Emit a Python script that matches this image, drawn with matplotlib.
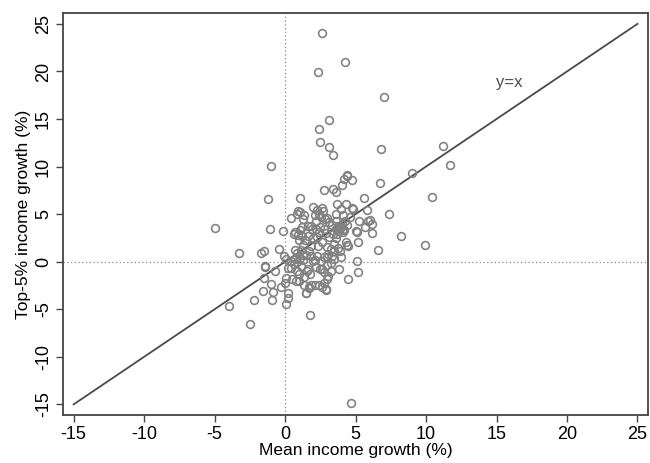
"""
Top-5% income growth vs mean income growth
Scatter with y=x reference line
"""

import matplotlib
matplotlib.use('Agg')
import matplotlib.pyplot as plt
import numpy as np

# points (mean growth %, top-5% growth %)
outer_x = [2.6, 4.27, 2.36, 7.05, 3.15, 2.42, 2.48, 3.13, 3.39, 6.8, 11.2, 11.7, 9.0,
           -1.0, 4.4, 4.15, 4.74, 4.06, 6.7, 2.77, 3.42, 3.6, -1.18, 1.05, 5.6, 10.45,
           -5.0, -1.1, -0.15, 7.4, 8.25, 9.9, 6.6, -3.3, -1.7, -1.5, 5.1, 5.15, 4.45,
           -1.44, -1.4, -1.5, -0.7, -1.0, -1.56, -0.83, -2.2, -0.94, -3.96, -2.47,
           0.05, 0.2, 0.2, 1.8, 4.68, -0.3, 0.0, -0.06, -0.4]
outer_y = [24.0, 21.0, 19.9, 17.3, 14.9, 13.9, 12.6, 12.1, 11.2, 11.8, 12.2, 10.2, 9.3,
           10.1, 9.0, 8.7, 8.55, 8.1, 8.3, 7.5, 7.6, 7.3, 6.6, 6.7, 6.7, 6.85,
           3.5, 3.4, 3.25, 5.0, 2.7, 1.8, 1.2, 0.9, 0.9, 1.1, 0.1, -1.1, -1.8,
           -0.45, -0.6, -1.7, -1.0, -2.3, -3.1, -3.2, -4.05, -4.05, -4.7, -6.5,
           -4.4, -3.8, -3.3, -5.6, -14.9, -2.65, -2.2, 0.6, 1.35]

cluster_x = [2.01, 2.25, 2.63, 2.72, 2.42, 2.83, 3.7, 4.33, 4.0, 4.85, 5.8, 0.9, 0.85,
             1.05, 1.35, 1.3, 0.4, 3.62, 4.1, 4.6, 5.23, 5.85, 6.0, 6.17, 5.67, 6.17,
             5.12, 5.03, 5.2, 4.33, 4.4, 3.9, 4.0, 3.8, 3.24, 3.04, 2.97, 2.77, 2.88,
             2.63, 2.42, 2.13, 1.87, 1.7, 1.5, 1.37, 1.0, 0.75, 0.5, 0.06, 1.66, 1.75,
             1.55, 1.37, 1.02, 0.87, 0.41, 0.2, 0.6, 0.84, 1.13, 1.3, 1.46, 1.25, 1.05,
             0.87, 0.7, 1.13, 1.72, 1.81, 2.1, 2.25, 2.57, 2.75, 2.95, 3.07, 3.33, 3.5,
             3.27, 2.95, 2.63, 2.75, 2.45, 2.16, 1.95, 1.84, 2.33, 2.63, 2.98, 3.24,
             3.48, 3.62, 3.42, 3.15, 2.92, 2.74, 2.45, 2.16, 1.92, 1.66, 1.84, 2.16,
             2.54, 2.98, 3.13, 3.33, 3.6, 3.83, 4.06, 4.24, 4.36, 3.92, 3.62, 4.12,
             3.86, 3.71, 4.1, 4.45, 3.77, 3.5, 1.05, 0.73, 0.9, 1.2, 0.99, 0.6, 1.6,
             1.43, 1.95, 2.3, 1.28, 2.42, 0.05, 0.41, 0.67, 1.49, 1.7, 2.92, 4.74,
             4.39, 3.95, 4.2, 3.75, 2.1, 1.2]
cluster_y = [5.8, 5.45, 5.6, 5.3, 5.0, 4.5, 6.1, 6.1, 5.55, 5.55, 5.4, 5.3, 5.0,
             5.2, 4.9, 4.5, 4.55, 5.0, 4.9, 4.65, 4.27, 4.33, 4.37, 3.95, 3.6, 3.0,
             3.1, 3.2, 2.1, 2.1, 1.8, 1.1, 0.5, -0.8, -1.0, -1.5, -1.8, -2.2, -2.9,
             -2.7, -2.5, -2.45, -2.4, -2.7, -3.3, -2.4, -2.0, -2.0, -1.86, -1.7, -0.8,
             -1.3, -1.0, -1.6, -1.3, -1.0, -0.65, -0.65, -0.2, -0.05, -0.4, 0.15, 0.7,
             0.75, 0.4, 0.95, 1.2, 1.2, 1.15, 0.65, 0.15, 0.6, 0.1, 0.5, 0.5, 0.85,
             0.6, 0.3, -0.1, -0.35, -0.8, -1.1, -0.75, -0.6, 0.05, 1.6, 1.7, 2.1, 1.55,
             1.3, 1.9, 2.5, 2.95, 2.6, 3.0, 3.4, 3.7, 3.4, 3.4, 3.8, 3.8, 4.3, 4.65,
             4.6, 4.2, 3.85, 4.25, 3.8, 4.0, 4.3, 3.9, 3.5, 3.45, 3.45, 3.2, 2.9, 3.15,
             1.7, 1.45, 1.1, 3.3, 3.1, 2.85, 2.7, 2.3, 2.9, 2.7, 2.25, 2.5, 2.55, 1.8,
             3.1, 0.3, 0.1, 0.3, -3.28, -2.79, -2.93, 5.6, 9.12, 3.6, 3.3, 3.75, 4.9, 3.6]

x_vals = np.array(outer_x + cluster_x)
y_vals = np.array(outer_y + cluster_y)

ref_line = [-15, 25]
ticks = [-15, -10, -5, 0, 5, 10, 15, 20, 25]

plt.rcParams['font.family'] = ['Liberation Sans', 'DejaVu Sans']

fig = plt.figure(figsize=(6.5, 4.63), dpi=100)
ax = fig.add_axes([0.097, 0.104, 0.9, 0.867])

# reference lines
ax.axhline(0, color='#888888', lw=0.9, ls=(0, (1, 2)), zorder=1)
ax.axvline(0, color='#888888', lw=0.9, ls=(0, (1, 2)), zorder=1)
ax.plot(ref_line, ref_line, color='#4a4a4a', lw=1.3, zorder=2)
ax.text(15.9, 18.8, 'y=x', fontsize=12, color='#4a4a4a', ha='center', va='center')

# scatter
ax.plot(x_vals, y_vals, 'o', mfc='none', mec='#808080', ms=5.6, mew=1.15, zorder=3)

ax.set_xlim(-15.75, 25.75)
ax.set_ylim(-16.1, 26.1)
ax.set_xticks(ticks)
ax.set_yticks(ticks)
ax.set_xticklabels([str(t) for t in ticks], fontsize=13)
ax.set_yticklabels([str(t) for t in ticks], fontsize=13, rotation=90, va='center')
ax.tick_params(direction='out', length=5, width=1, color='#444444', pad=3)

for s in ax.spines.values():
    s.set_color('#444444')
    s.set_linewidth(1.3)

ax.set_xlabel('Mean income growth (%)', fontsize=12.5, labelpad=0)
ax.set_ylabel('Top-5% income growth (%)', fontsize=12.5, labelpad=3)

fig.savefig('out.png', dpi=100)
